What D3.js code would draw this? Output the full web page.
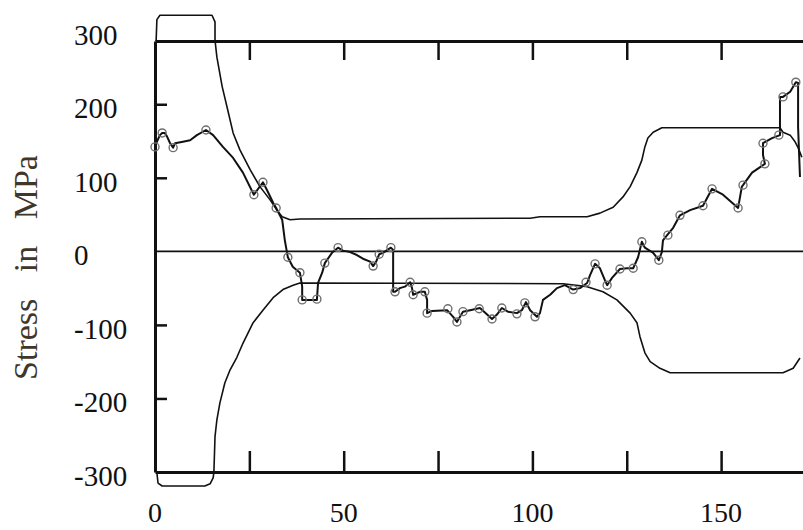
<!DOCTYPE html>
<html><head><meta charset="utf-8">
<script src="https://cdn.jsdelivr.net/npm/d3@7"></script>
<style>html,body{margin:0;padding:0;background:#fff;} svg{display:block;}</style>
</head><body>
<svg id="chart" width="803" height="530"></svg>
<script>
// ---- data ----
const xTickValues = [25, 50, 75, 100, 125, 150];
const xLabelValues = [0, 50, 100, 150];
const yTickValues = [200, 100, -100, -200];
const yLabelValues = [300, 200, 100, 0, -100, -200, -300];
const yTitle = "Stress in MPa";

// upper envelope
const upperX = [0.3, 0.5, 1.3, 15.1, 15.9, 15.9, 16.4, 17.8, 19.1, 20.7, 22.5, 25.2, 27.8, 30.5, 32.3, 33.7, 35.8, 38.4, 99.4, 102.0, 114.5, 117.9, 121.4, 124.0, 125.9, 127.7, 129.0, 129.8, 130.6, 132.0, 134.3, 165.6, 166.4, 168.3, 169.6, 170.4, 171.4];
const upperY = [286, 315, 321, 321, 312, 287, 264, 224, 196, 161, 138, 111, 88, 70, 56, 47, 43, 44, 45, 47, 47, 52, 60, 74, 88, 107, 124, 142, 154, 162, 168, 168, 162, 158, 149, 141, 128];

// lower envelope
const lowerX = [0.5, 0.8, 1.9, 13.2, 14.6, 15.4, 15.6, 15.9, 16.4, 17.2, 18.5, 19.9, 21.7, 23.3, 26.0, 28.6, 31.3, 33.9, 36.6, 38.4, 108.1, 114.5, 118.7, 122.4, 125.9, 127.7, 128.5, 129.8, 131.2, 133.8, 136.5, 166.4, 169.1, 170.9];
const lowerY = [-301, -315, -319, -319, -316, -308, -301, -252, -229, -206, -179, -161, -144, -125, -97, -80, -63, -52, -46, -43, -44, -48, -55, -66, -84, -97, -116, -138, -150, -159, -165, -165, -159, -145];

// computed stress curve
const stressX = [0, 0.5, 1.3, 1.9, 2.6, 3.2, 4.0, 4.8, 5.3, 7.4, 9.3, 11.1, 13.5, 15.4, 18.0, 20.7, 23.3, 26.2, 28.6, 29.7, 31.3, 32.1, 33.7, 34.4, 35.2, 36.5, 38.4, 39.0, 39.0, 42.9, 43.2, 44.3, 45.0, 46.9, 48.5, 49.8, 51.7, 53.5, 55.1, 57.0, 57.8, 58.6, 59.4, 60.4, 62.5, 63.1, 63.1, 63.6, 64.9, 66.2, 67.6, 68.1, 68.4, 70.2, 71.5, 72.1, 72.1, 73.4, 77.4, 79.0, 80.0, 80.8, 81.6, 83.5, 86.1, 88.0, 89.3, 90.6, 91.9, 93.5, 95.9, 97.2, 98.3, 99.4, 101.2, 102.0, 102.8, 104.7, 106.5, 108.6, 110.8, 112.6, 114.5, 115.3, 116.6, 117.9, 119.2, 119.8, 121.1, 123.2, 125.1, 126.7, 128.0, 129.0, 129.8, 132.0, 133.5, 134.3, 134.6, 135.7, 137.3, 139.1, 141.8, 145.2, 147.6, 150.5, 154.5, 155.5, 155.8, 158.2, 161.6, 161.1, 161.1, 163.5, 165.6, 165.6, 165.6, 166.4, 168.3, 169.8, 170.4, 170.4, 170.9];
const stressY = [142, 149, 158, 161, 161, 156, 147, 141, 147, 149, 151, 158, 165, 158, 142, 127, 107, 77, 94, 83, 66, 59, 43, 15, -8, -21, -29, -48, -66, -66, -43, -29, -16, -2, 5, 1, -1, -5, -10, -14, -20, -14, -4, -2, 5, 2, -55, -55, -50, -48, -42, -50, -59, -55, -55, -66, -84, -81, -80, -89, -96, -89, -82, -80, -77, -86, -92, -86, -77, -82, -84, -80, -69, -80, -89, -84, -66, -59, -50, -46, -52, -50, -43, -32, -17, -23, -39, -46, -36, -24, -23, -23, -8, 13, 5, -2, -12, -1, 15, 22, 32, 49, 56, 62, 85, 77, 59, 88, 90, 107, 119, 131, 147, 154, 158, 168, 210, 210, 217, 230, 229, 169, 101];

// measured points
const measuredX = [0, 1.9, 4.8, 13.5, 26.2, 28.6, 32.1, 35.2, 38.4, 39.0, 42.9, 45.0, 48.5, 57.8, 59.4, 62.5, 63.6, 67.6, 68.4, 71.5, 72.1, 77.6, 80.0, 81.6, 85.9, 89.3, 91.9, 95.9, 98.0, 100.7, 110.8, 114.2, 116.6, 119.8, 123.2, 126.7, 129.0, 133.5, 135.9, 139.1, 145.2, 147.6, 154.5, 155.8, 161.6, 161.1, 165.3, 166.4, 169.8];
const measuredY = [142, 161, 141, 165, 77, 94, 59, -8, -29, -66, -65, -16, 5, -20, -4, 5, -55, -42, -59, -55, -84, -78, -96, -82, -78, -92, -77, -85, -70, -89, -52, -42, -17, -46, -24, -23, 13, -12, 22, 49, 62, 85, 59, 90, 119, 147, 158, 210, 230];

// ---- drawing ----
const svg = d3.select("#chart");
const pLeft = 155, pRight = 803, pTop = 41, pBottom = 472;
const x = d3.scaleLinear().domain([0, 171.7]).range([pLeft, pRight]);
const y = d3.scaleLinear().domain([-300, 286]).range([pBottom, pTop]);

const serif = "'Liberation Serif', 'Times New Roman', serif";

// zero line
svg.append("line")
  .attr("x1", x(0)).attr("x2", x(171.7))
  .attr("y1", y(0)).attr("y2", y(0))
  .attr("stroke", "#111").attr("stroke-width", 1.6);

// axes
const axL = svg.append("g").attr("transform", `translate(${pLeft},0)`)
  .call(d3.axisRight(y).tickValues(yTickValues).tickSize(12).tickSizeOuter(0).tickFormat(""));
const axT = svg.append("g").attr("transform", `translate(0,${pTop})`)
  .call(d3.axisBottom(x).tickValues(xTickValues).tickSize(19).tickSizeOuter(0).tickFormat(""));
const axB = svg.append("g").attr("transform", `translate(0,${pBottom})`)
  .call(d3.axisTop(x).tickValues(xTickValues).tickSize(21).tickSizeOuter(0).tickFormat(""));
[axL, axT, axB].forEach(g => {
  g.select(".domain").attr("stroke", "#111").attr("stroke-width", 3);
  g.selectAll(".tick line").attr("stroke", "#111").attr("stroke-width", 2.5);
});

const line = d3.line().x(d => x(d[0])).y(d => y(d[1]));
const zip = (a, b) => a.map((v, i) => [v, b[i]]);

svg.append("path").datum(zip(upperX, upperY)).attr("d", line)
  .attr("fill", "none").attr("stroke", "#111").attr("stroke-width", 1.6).attr("stroke-linejoin", "round");
svg.append("path").datum(zip(lowerX, lowerY)).attr("d", line)
  .attr("fill", "none").attr("stroke", "#111").attr("stroke-width", 1.6).attr("stroke-linejoin", "round");
svg.append("path").datum(zip(stressX, stressY)).attr("d", line)
  .attr("fill", "none").attr("stroke", "#111").attr("stroke-width", 2).attr("stroke-linejoin", "round");

svg.append("g").selectAll("circle").data(zip(measuredX, measuredY)).join("circle")
  .attr("cx", d => x(d[0])).attr("cy", d => y(d[1])).attr("r", 4)
  .attr("fill", "none").attr("stroke", "#707070").attr("stroke-width", 1.4);

// tick labels
svg.append("g").selectAll("text").data(yLabelValues).join("text")
  .attr("x", 74).attr("y", d => y(d) + 14)
  .attr("font-family", serif).attr("font-size", 29).attr("fill", "#111")
  .text(d => d);
svg.append("g").selectAll("text").data(xLabelValues).join("text")
  .attr("x", d => x(d)).attr("y", 522).attr("text-anchor", "middle")
  .attr("font-family", serif).attr("font-size", 28).attr("fill", "#111")
  .text(d => d);

// y title
svg.append("text")
  .attr("transform", `translate(37,${(152 + 383) / 2}) rotate(-90)`)
  .attr("text-anchor", "middle")
  .attr("font-family", serif).attr("font-size", 34).attr("word-spacing", "18px")
  .attr("fill", "#40362a")
  .text(yTitle);
</script>
</body></html>
